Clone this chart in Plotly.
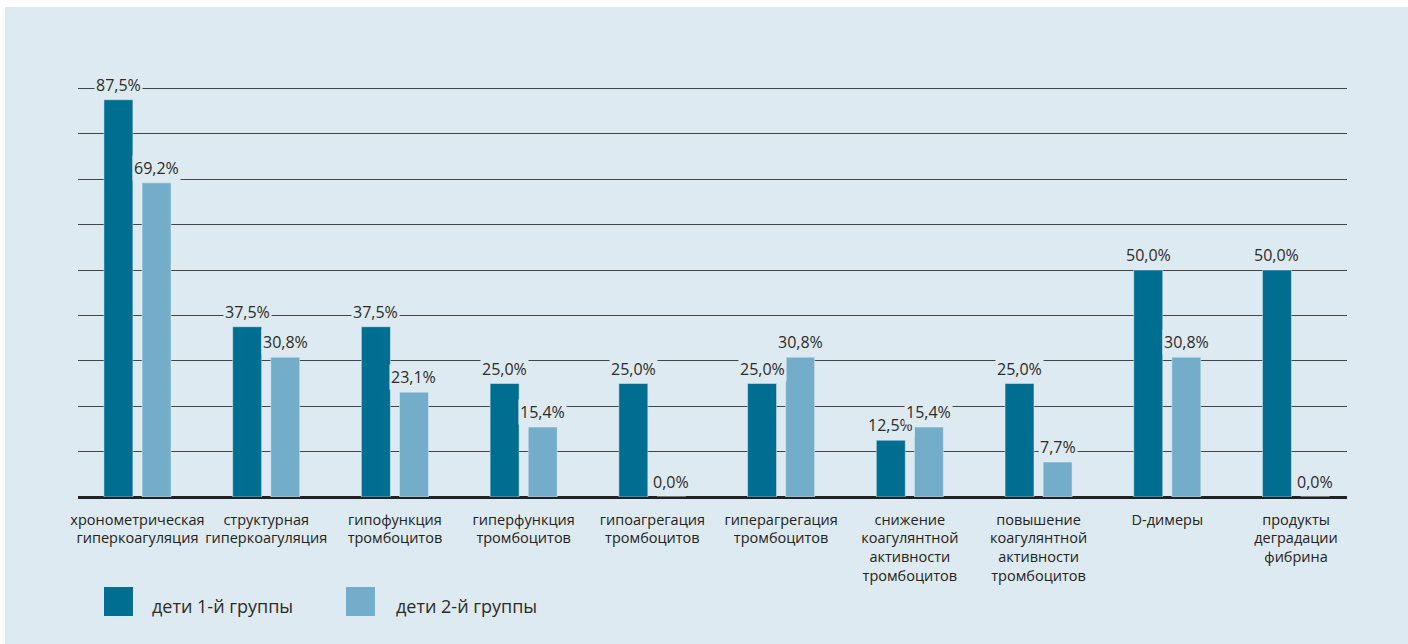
import plotly.graph_objects as go

# Categories (axis labels, line breaks where the label wraps)
categories = [
    "хронометрическая<br>гиперкоагуляция",
    "структурная<br>гиперкоагуляция",
    "гипофункция<br>тромбоцитов",
    "гиперфункция<br>тромбоцитов",
    "гипоагрегация<br>тромбоцитов",
    "гиперагрегация<br>тромбоцитов",
    "снижение<br>коагулянтной<br>активности<br>тромбоцитов",
    "повышение<br>коагулянтной<br>активности<br>тромбоцитов",
    "D-димеры",
    "продукты<br>деградации<br>фибрина",
]

# Share of children, %
group1 = [87.5, 37.5, 37.5, 25.0, 25.0, 25.0, 12.5, 25.0, 50.0, 50.0]
group2 = [69.2, 30.8, 23.1, 15.4, 0.0, 30.8, 15.4, 7.7, 30.8, 0.0]

series_names = ["дети 1-й группы", "дети 2-й группы"]

DARK = "#006e91"
LIGHT = "#74adc9"
PANEL = "#deeaf2"
FONT = "Open Sans"

BAR_W = 0.225
SHIFT = 0.148

xpos = list(range(len(categories)))


def pct(v):
    return f"{v:.1f}".replace(".", ",") + "%"


fig = go.Figure()
fig.add_trace(go.Bar(
    x=xpos, y=group1, name=series_names[0], marker_color=DARK,
    width=BAR_W, offset=-SHIFT - BAR_W / 2, showlegend=False,
))
fig.add_trace(go.Bar(
    x=xpos, y=group2, name=series_names[1], marker_color=LIGHT,
    width=BAR_W, offset=SHIFT - BAR_W / 2, showlegend=False,
))

annotations = []
for vals, dx in ((group1, -SHIFT), (group2, SHIFT)):
    for i, v in enumerate(vals):
        annotations.append(dict(
            x=i + dx, y=v, xref="x", yref="y", text=pct(v),
            showarrow=False, yanchor="bottom", yshift=2,
            font=dict(family=FONT, size=16, color="#2b2b2b"),
            bgcolor=PANEL, borderpad=1,
        ))

# Legend drawn as coloured squares with captions under the axis
PLOT_L, PLOT_R, PLOT_T, PLOT_B = 78, 1347, 43, 497
PW, PH = PLOT_R - PLOT_L, PLOT_B - PLOT_T


def px_x(p):
    return (p - PLOT_L) / PW


def px_y(p):
    return (PLOT_B - p) / PH


shapes = [
    # light-blue panel behind everything
    dict(type="rect", xref="paper", yref="paper", layer="below",
         x0=px_x(5), x1=px_x(1408), y0=px_y(644), y1=px_y(7),
         fillcolor=PANEL, line=dict(width=0)),
]
legend_items = [(104, 150, DARK, series_names[0]), (346, 394, LIGHT, series_names[1])]
for sx, tx, col, name in legend_items:
    shapes.append(dict(type="rect", xref="paper", yref="paper",
                       x0=px_x(sx), x1=px_x(sx + 29), y0=px_y(616), y1=px_y(587),
                       fillcolor=col, line=dict(width=0)))
    annotations.append(dict(x=px_x(tx), y=px_y(606), xref="paper", yref="paper",
                            text=name, showarrow=False, xanchor="left", yanchor="middle",
                            font=dict(family=FONT, size=18, color="#2b2b2b")))

fig.update_layout(
    width=1408, height=644, autosize=False,
    margin=dict(l=PLOT_L, r=1408 - PLOT_R, t=PLOT_T, b=644 - PLOT_B),
    paper_bgcolor="white", plot_bgcolor="rgba(0,0,0,0)",
    barmode="overlay",
    shapes=shapes, annotations=annotations,
    font=dict(family=FONT, color="#222"),
)
fig.update_xaxes(
    range=[-0.462, 9.396], tickmode="array", tickvals=xpos, ticktext=categories,
    tickfont=dict(family=FONT, size=14.5, color="#222"),
    tickangle=0, ticklabelstandoff=12,
    showgrid=False, zeroline=False, showline=False, ticks="",
)
fig.update_yaxes(
    range=[0, 100], tick0=0, dtick=10, showticklabels=False,
    showgrid=True, gridcolor="#444444", gridwidth=1.2,
    zeroline=True, zerolinecolor="#222", zerolinewidth=3,
)

fig.write_html("out.html")
